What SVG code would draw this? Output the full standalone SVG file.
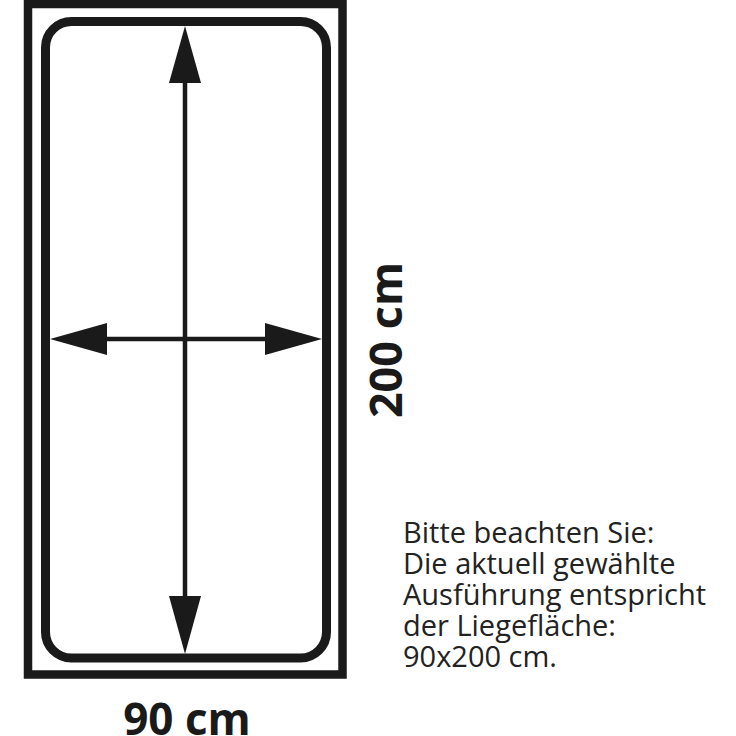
<svg xmlns="http://www.w3.org/2000/svg" width="736" height="736" viewBox="0 0 736 736">
<style>
.frame{fill:none;stroke:#1a1a1a}
.line{stroke:#1a1a1a;stroke-width:4.5}
.head{fill:#1a1a1a}
.dim{font-family:"Open Sans","Liberation Sans",sans-serif;font-weight:700;fill:#1a1a1a}
.note{font-family:"Open Sans","Liberation Sans",sans-serif;font-size:29px;fill:#222}
</style>
<rect width="736" height="736" fill="#fff"/>
<g id="bed-frame">
<rect class="frame" x="28" y="4" width="314.5" height="670.5" stroke-width="8.5"/>
</g>
<g id="mattress">
<rect class="frame" x="45.5" y="21.5" width="281" height="636.5" rx="26" ry="26" stroke-width="9"/>
</g>
<g id="connectors">
<line class="line" x1="185" y1="60" x2="185" y2="620"/>
<line class="line" x1="80" y1="339" x2="295" y2="339"/>
<polygon class="head" points="185,26 169,83 201,83"/>
<polygon class="head" points="185,654 169,596 201,596"/>
<polygon class="head" points="50,339 107,323 107,355"/>
<polygon class="head" points="322,339 265,323 265,355"/>
</g>
<g id="label-width">
<text class="dim" x="187" y="735" font-size="44" text-anchor="middle">90 cm</text>
</g>
<g id="label-length">
<text class="dim" transform="translate(402,340) rotate(-90)" font-size="45" text-anchor="middle">200 cm</text>
</g>
<g id="note">
<text class="note" x="403" y="543">Bitte beachten Sie:</text>
<text class="note" x="403" y="574">Die aktuell gewählte</text>
<text class="note" x="403" y="605">Ausführung entspricht</text>
<text class="note" x="403" y="636">der Liegefläche:</text>
<text class="note" x="403" y="667">90x200 cm.</text>
</g>
</svg>
